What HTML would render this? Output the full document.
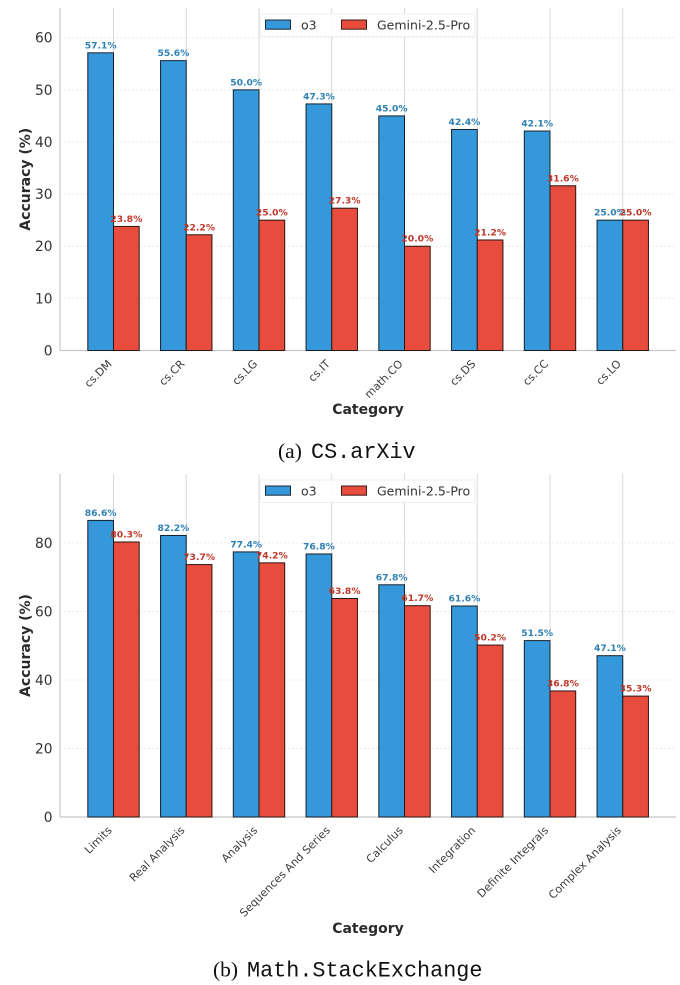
<!DOCTYPE html>
<html>
<head>
<meta charset="utf-8">
<title>Accuracy by category</title>
<style>
html,body{margin:0;padding:0;background:#fff;}
body{width:680px;height:985px;overflow:hidden;position:relative;}
svg{position:absolute;left:0;top:0;display:block;}
text{font-family:"DejaVu Sans","Liberation Sans",sans-serif;}
.caption{font-family:"Liberation Serif",serif;font-size:21.5px;fill:#111;}
.mono{font-family:"Liberation Mono",monospace;font-size:21.8px;}
</style>
</head>
<body>
<svg id="figure" width="680" height="985" viewBox="0 0 680 985" xmlns="http://www.w3.org/2000/svg">
  <g id="chart-a"></g>
  <g id="chart-b"></g>
  <text class="caption" x="278" y="458">(a) <tspan class="mono" x="311">CS.arXiv</tspan></text>
  <text class="caption" x="213" y="976.5">(b) <tspan class="mono" x="247">Math.StackExchange</tspan></text>
</svg>
<script>
const seriesNames = ['o3', 'Gemini-2.5-Pro'];

const csCategories = ['cs.DM', 'cs.CR', 'cs.LG', 'cs.IT', 'math.CO', 'cs.DS', 'cs.CC', 'cs.LO'];
const csO3 = [57.1, 55.6, 50.0, 47.3, 45.0, 42.4, 42.1, 25.0];
const csGemini = [23.8, 22.2, 25.0, 27.3, 20.0, 21.2, 31.6, 25.0];
const csTicks = [0, 10, 20, 30, 40, 50, 60];

const mathCategories = ['Limits', 'Real Analysis', 'Analysis', 'Sequences And Series', 'Calculus', 'Integration', 'Definite Integrals', 'Complex Analysis'];
const mathO3 = [86.6, 82.2, 77.4, 76.8, 67.8, 61.6, 51.5, 47.1];
const mathGemini = [80.3, 73.7, 74.2, 63.8, 61.7, 50.2, 36.8, 35.3];
const mathTicks = [0, 20, 40, 60, 80];

const NS = 'http://www.w3.org/2000/svg';

function make(tag, parent, attrs, content) {
  const el = document.createElementNS(NS, tag);
  for (const k in attrs) el.setAttribute(k, attrs[k]);
  if (content !== undefined) el.textContent = content;
  parent.appendChild(el);
  return el;
}

function drawChart(root, cfg) {
  const left = 60, right = 676;
  const firstCenter = 113.5, step = 72.75, barW = 25.7;
  const x = i => firstCenter + step * i;
  const y = v => cfg.bottom - v * cfg.pxPerUnit;

  // horizontal grid
  cfg.ticks.forEach(t => {
    if (t === 0) return;
    const g = make('line', root, {x1: left, x2: right, y1: y(t), y2: y(t), stroke: '#ececec', 'stroke-width': 1, 'stroke-dasharray': '2 2'});
    
    
  });
  // vertical grid
  cfg.categories.forEach((c, i) => {
    const g = make('line', root, {x1: x(i), x2: x(i), y1: cfg.top, y2: cfg.bottom, stroke: '#d9d9d9', 'stroke-width': 1});
    
    
  });
  // spines
  const ls = make('line', root, {x1: left, x2: left, y1: cfg.top, y2: cfg.bottom, stroke: '#c8c8c8', 'stroke-width': 1.2});
  
  
  const bs = make('line', root, {x1: left, x2: right, y1: cfg.bottom, y2: cfg.bottom, stroke: '#c8c8c8', 'stroke-width': 1.2});
  
  

  // legend
  const lg = make('g', root, {});
  
  
  const ly = cfg.top + 6;
  const lb = make('rect', lg, {x: 260, y: ly, width: 215, height: 22.5, rx: 1.5, fill: '#fff', 'fill-opacity': 0.88, stroke: '#eeeeee', 'stroke-width': 1});
  
  
  const p1 = make('rect', lg, {x: 265.5, y: ly + 6, width: 25, height: 9.2, fill: '#3498db', stroke: '#1c2a36', 'stroke-width': 1});
  
  
  const t1 = make('text', lg, {x: 301, y: ly + 15.5, 'font-size': 12.5, fill: '#333'}, seriesNames[0]);
  
  
  const p2 = make('rect', lg, {x: 341.5, y: ly + 6, width: 25, height: 9.2, fill: '#e74c3c', stroke: '#3a1c18', 'stroke-width': 1});
  
  
  const t2 = make('text', lg, {x: 377, y: ly + 15.5, 'font-size': 12.5, fill: '#333'}, seriesNames[1]);
  
  

  // bars
  cfg.categories.forEach((c, i) => {
    const b1 = make('rect', root, {x: x(i) - barW, y: y(cfg.o3[i]), width: barW, height: cfg.bottom - y(cfg.o3[i]), fill: '#3498db', stroke: '#16202a', 'stroke-width': 1});
    
    
    const b2 = make('rect', root, {x: x(i), y: y(cfg.gemini[i]), width: barW, height: cfg.bottom - y(cfg.gemini[i]), fill: '#e74c3c', stroke: '#2a1614', 'stroke-width': 1});
    
    
  });
  // value labels
  cfg.categories.forEach((c, i) => {
    const v1 = make('text', root, {x: x(i) - barW / 2, y: y(cfg.o3[i]) - 4.5, 'text-anchor': 'middle', 'font-size': 9.2, 'font-weight': 'bold', fill: '#2f80b5'}, cfg.o3[i].toFixed(1) + '%');
    
    
    const v2 = make('text', root, {x: x(i) + barW / 2, y: y(cfg.gemini[i]) - 4.5, 'text-anchor': 'middle', 'font-size': 9.2, 'font-weight': 'bold', fill: '#c0392b'}, cfg.gemini[i].toFixed(1) + '%');
    
    
  });
  // y tick labels
  cfg.ticks.forEach(t => {
    const l = make('text', root, {x: 52.5, y: y(t) + 5, 'text-anchor': 'end', 'font-size': 13.8, fill: '#333'}, String(t));
    
    
  });
  // x tick labels
  cfg.categories.forEach((c, i) => {
    const px = x(i) - 1, py = cfg.bottom + 14;
    const l = make('text', root, {x: px, y: py, 'text-anchor': 'end', 'font-size': 11, fill: '#3d3d3d', transform: 'rotate(-45 ' + px + ' ' + py + ')'}, c);
    
    
  });
  // axis titles
  const cy = (cfg.top + cfg.bottom) / 2;
  const yt = make('text', root, {x: 30, y: cy, 'text-anchor': 'middle', 'font-size': 14, 'font-weight': 'bold', fill: '#2b2b2b', transform: 'rotate(-90 30 ' + cy + ')'}, 'Accuracy (%)');
  
  
  const xt = make('text', root, {x: 368, y: cfg.xTitleY, 'text-anchor': 'middle', 'font-size': 14, 'font-weight': 'bold', fill: '#2b2b2b'}, 'Category');
  
  
}

drawChart(document.getElementById('chart-a'), {
  categories: csCategories, o3: csO3, gemini: csGemini, ticks: csTicks,
  top: 8, bottom: 350.5, pxPerUnit: 5.213, xTitleY: 414
});
drawChart(document.getElementById('chart-b'), {
  categories: mathCategories, o3: mathO3, gemini: mathGemini, ticks: mathTicks,
  top: 474, bottom: 817, pxPerUnit: 3.425, xTitleY: 933
});
</script>
</body>
</html>
